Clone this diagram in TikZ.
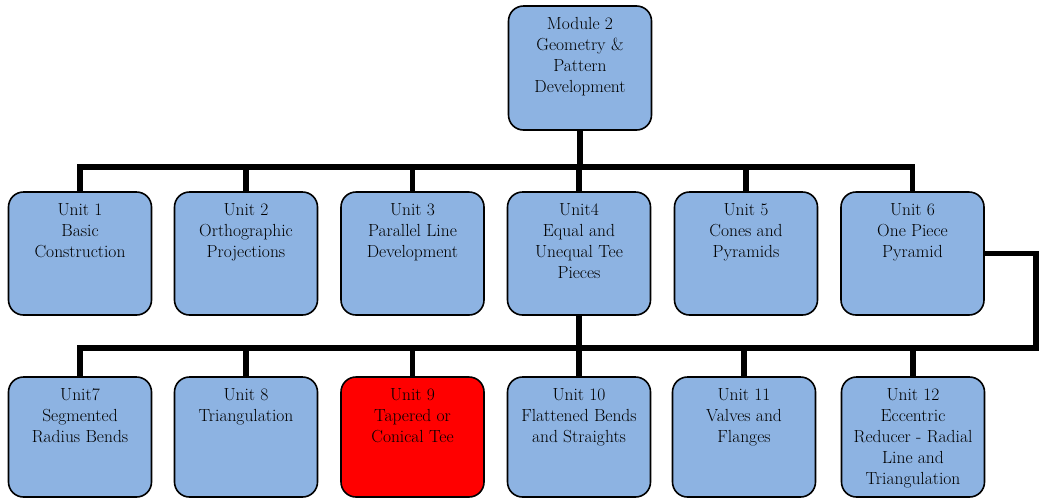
\documentclass[tikz,border=0pt]{standalone}
\definecolor{unitblue}{RGB}{141,179,226}
\definecolor{unitred}{RGB}{255,0,0}
\tikzset{
  every picture/.style={
    x=1pt, y=-1pt
  },
  unit/.style={
    draw, fill=unitblue, line width=1.6pt,
    rounded corners=15pt, inner sep=0pt,
    text=black,
    font=\fontsize{17.5}{21}\selectfont
  },
  trunk/.style={
    line width=5.5pt
  }
}
% top aligned text inside a box of given height
\newcommand{\unittext}[2]{\parbox[c][#1][t]{143pt}{\centering\rule{0pt}{23pt}#2}}

\begin{document}
\begin{tikzpicture}
  \useasboundingbox (0,0) rectangle (1040,499);
  \node [unit] (mod) at (580,68) {\unittext{124pt}{Module 2\\Geometry \&\\Pattern\\Development}};

  \node [unit] (u1) at (80,253.5) {\unittext{123pt}{Unit 1\\Basic\\Construction}};
  \node [unit] (u2) at (246,253.5) {\unittext{123pt}{Unit 2\\Orthographic\\Projections}};
  \node [unit] (u3) at (412.5,253.5) {\unittext{123pt}{Unit 3\\Parallel Line\\Development}};
  \node [unit] (u4) at (579,253.5) {\unittext{123pt}{Unit4\\Equal and\\Unequal Tee\\Pieces}};
  \node [unit] (u5) at (746,253.5) {\unittext{123pt}{Unit 5\\Cones and\\Pyramids}};
  \node [unit] (u6) at (912.5,253.5) {\unittext{123pt}{Unit 6\\One Piece\\Pyramid}};

  \node [unit] (u7) at (80,437) {\unittext{120pt}{Unit7\\Segmented\\Radius Bends}};
  \node [unit] (u8) at (246,437) {\unittext{120pt}{Unit 8\\Triangulation}};
  \node [unit, fill=unitred] (u9) at (412.5,437) {\unittext{120pt}{Unit 9\\Tapered or\\Conical Tee}};
  \node [unit] (u10) at (579,437) {\unittext{120pt}{Unit 10\\Flattened Bends\\and Straights}};
  \node [unit] (u11) at (744,437) {\unittext{120pt}{Unit 11\\Valves and\\Flanges}};
  \node [unit] (u12) at (913,437) {\unittext{120pt}{Unit 12\\Eccentric\\Reducer - Radial\\Line and\\Triangulation}};

  \coordinate (bus1) at (580,167);
  \coordinate (bend) at (1036,348);

  % module to first row
  \draw [trunk] (mod.south) -- (bus1);
  \draw [trunk] (u1.north) -- (u1.north |- bus1) -- (u6.north |- bus1) -- (u6.north);
  \draw [trunk] (u2.north |- bus1) -- (u2.north);
  \draw [trunk] (u3.north |- bus1) -- (u3.north);
  \draw [trunk] (u4.north |- bus1) -- (u4.north);
  \draw [trunk] (u5.north |- bus1) -- (u5.north);

  % first row to second row
  \draw [trunk] (u6.east) -- (u6.east -| bend) -- (bend) -- (u7.north |- bend) -- (u7.north);
  \draw [trunk] (u4.south) -- (u10.north);
  \draw [trunk] (u8.north |- bend) -- (u8.north);
  \draw [trunk] (u9.north |- bend) -- (u9.north);
  \draw [trunk] (u11.north |- bend) -- (u11.north);
  \draw [trunk] (u12.north |- bend) -- (u12.north);
\end{tikzpicture}
\end{document}
